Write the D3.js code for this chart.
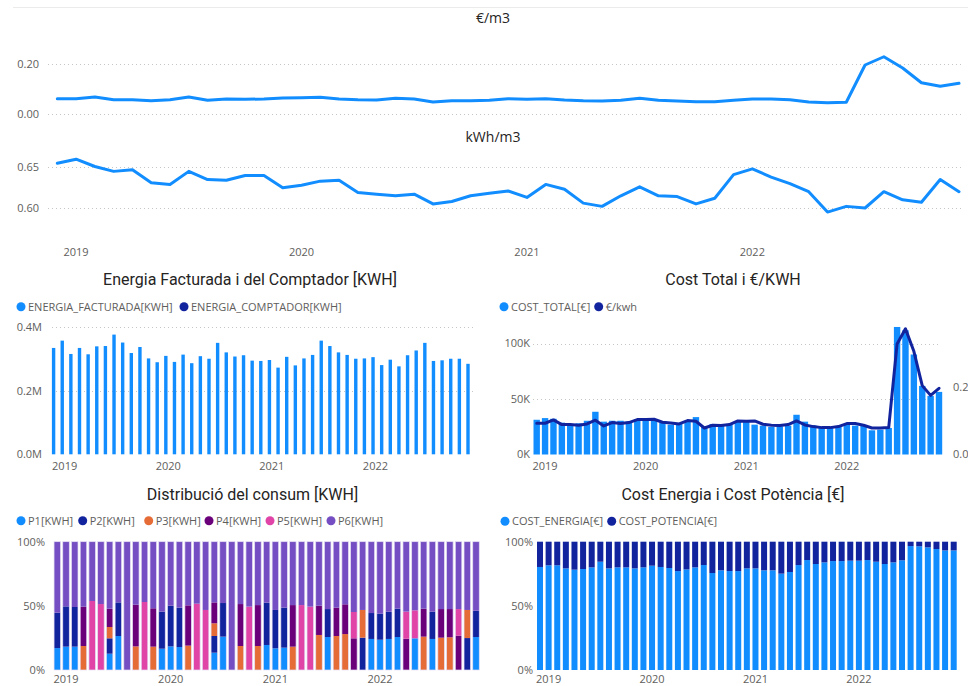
<!DOCTYPE html>
<html><head><meta charset="utf-8">
<script src="https://cdn.jsdelivr.net/npm/d3@7"></script>
<style>
body{margin:0;background:#fff;}
svg{display:block;font-family:"Open Sans",sans-serif;}
</style></head><body><svg id="c" width="968" height="686"></svg>
<script>
// ---------------- DATA ----------------
const months = ["2018-12","2019-01","2019-02","2019-03","2019-04","2019-05","2019-06","2019-07","2019-08","2019-09","2019-10","2019-11","2019-12",
"2020-01","2020-02","2020-03","2020-04","2020-05","2020-06","2020-07","2020-08","2020-09","2020-10","2020-11","2020-12",
"2021-01","2021-02","2021-03","2021-04","2021-05","2021-06","2021-07","2021-08","2021-09","2021-10","2021-11","2021-12",
"2022-01","2022-02","2022-03","2022-04","2022-05","2022-06","2022-07","2022-08","2022-09","2022-10","2022-11","2022-12"];
const yearLabels = ["2019","2020","2021","2022"];

const eurPerM3 = [0.061,0.061,0.068,0.057,0.057,0.053,0.057,0.068,0.055,0.060,0.059,0.060,0.064,0.065,0.067,0.060,0.057,0.056,0.063,0.060,0.048,0.053,0.053,0.055,0.061,0.059,0.061,0.056,0.053,0.052,0.055,0.063,0.055,0.052,0.049,0.049,0.055,0.060,0.060,0.057,0.048,0.045,0.047,0.196,0.229,0.184,0.125,0.111,0.123];
const eurPerM3Ticks = [0, 0.2];

const kwhPerM3 = [0.655,0.660,0.651,0.645,0.647,0.631,0.629,0.645,0.635,0.634,0.640,0.640,0.625,0.628,0.633,0.634,0.619,0.617,0.615,0.617,0.605,0.608,0.615,0.618,0.621,0.613,0.629,0.623,0.606,0.602,0.615,0.626,0.615,0.614,0.605,0.612,0.641,0.648,0.638,0.630,0.620,0.595,0.602,0.600,0.620,0.610,0.607,0.635,0.620];
const kwhPerM3Ticks = [0.60, 0.65];

const energiaFacturada = [335000,358000,316000,335000,315000,340000,341000,377000,352000,319000,338000,302000,290000,310000,291000,314000,287000,309000,301000,351000,321000,308000,312000,295000,294000,297000,273000,307000,280000,302000,313000,358000,341000,321000,313000,301000,302000,306000,281000,298000,277000,312000,327000,351000,294000,296000,301000,301000,285000];
const energiaTicks = [0, 200000, 400000];

const costTotal = [31300,32800,32200,28700,27500,28100,30400,38500,29600,30400,30400,29600,31900,32200,31900,28700,26900,27500,30400,33700,25100,27500,26000,27500,29900,29600,26900,26000,24800,25400,26000,35800,29600,26000,23900,23900,24800,27200,26000,26000,21800,22400,23900,114900,111900,90100,61800,52800,56400];
const eurPerKwh = [0.093,0.093,0.103,0.089,0.089,0.087,0.091,0.102,0.085,0.095,0.092,0.095,0.104,0.104,0.105,0.096,0.094,0.091,0.101,0.099,0.079,0.087,0.086,0.089,0.100,0.099,0.100,0.090,0.087,0.086,0.089,0.100,0.088,0.083,0.080,0.080,0.083,0.092,0.092,0.087,0.079,0.079,0.080,0.329,0.374,0.307,0.205,0.176,0.197];
const costTicks = [0, 50000, 100000];
const eurPerKwhTicks = [0, 0.2];

const P1 = [17.1,18.2,18.2,0,0,0,12.7,26.5,0,0,0,0,16.6,18.4,17.9,0,0,0,13.5,26.0,0,0,0,0,19.5,16.9,17.4,0,0,0,0,25.7,0,0,0,0,24.2,23.6,24.2,25.7,0,24.7,0,24.2,0,0,0,0,25.7];
const P2 = [27.6,31.4,30.9,0,0,0,12.0,26.2,0,0,0,0,28.9,31.7,30.7,0,0,0,13.0,26.2,0,0,0,0,33.0,29.9,31.2,0,0,0,0,21.8,0,0,0,25.2,20.2,20.3,21.3,22.1,0,0,0,21.3,0,0,0,24.9,20.5];
const P3 = [0,0,0,18.7,0,0,8.8,0,0,18.4,0,18.2,0,0,0,19.0,0,0,9.9,0,0,18.7,0,18.7,0,0,0,18.2,0,0,27.3,0,26.5,28.0,0,21.6,0,0,0,0,0,0,26.0,0,25.2,25.5,0,21.9,0];
const P4 = [0,0,0,30.7,0,0,14.3,0,0,32.5,0,29.9,0,0,0,31.4,0,0,16.3,0,0,32.7,0,31.9,0,0,0,32.4,0,0,22.8,0,22.1,23.2,24.7,0,0,0,0,0,24.4,0,21.8,0,22.3,22.0,26.8,0,0];
const P5 = [0,0,0,0,53.8,51.4,0,0,0,0,53.0,0,0,0,0,0,51.7,46.8,0,0,0,0,49.4,0,0,0,0,0,50.6,49.4,0,0,0,0,20.5,0,0,0,0,0,21.1,21.8,0,0,0,0,20.7,0,0];
const P6 = [55.3,50.4,50.9,50.6,46.2,48.6,52.2,47.3,100,49.1,47.0,51.9,54.5,49.9,51.4,49.6,48.3,53.2,47.3,47.8,100,48.6,50.6,49.4,47.5,53.2,51.4,49.4,49.4,50.6,49.9,52.5,51.4,48.8,54.8,53.2,55.6,56.1,54.5,52.2,54.5,53.5,52.2,54.5,52.5,52.5,52.5,53.2,53.8];
const periodNames = ["P1[KWH]","P2[KWH]","P3[KWH]","P4[KWH]","P5[KWH]","P6[KWH]"];

const costEnergia = [80.3,81.6,81.6,79.2,78.2,78.7,80.0,84.4,79.2,80.0,80.0,79.2,80.0,81.3,80.3,79.5,77.1,78.4,80.0,81.8,75.6,77.7,77.1,77.1,79.2,79.2,77.7,77.7,75.1,76.4,81.8,85.7,82.6,83.9,84.9,84.9,85.2,85.2,85.7,84.4,82.6,83.9,85.5,96.6,96.4,95.6,94.3,93.2,93.2];
const costPotencia = [19.7,18.4,18.4,20.8,21.8,21.3,20.0,15.6,20.8,20.0,20.0,20.8,20.0,18.7,19.7,20.5,22.9,21.6,20.0,18.2,24.4,22.3,22.9,22.9,20.8,20.8,22.3,22.3,24.9,23.6,18.2,14.3,17.4,16.1,15.1,15.1,14.8,14.8,14.3,15.6,17.4,16.1,14.5,3.4,3.6,4.4,5.7,6.8,6.8];
const pctTicks = [0, 50, 100];

// ---------------- STYLE ----------------
const C = {blue:"#118DFF", navy:"#12239E", orange:"#E66C37", purple:"#6B007B", pink:"#E044A7", violet:"#744EC2"};
const periodColors = [C.blue, C.navy, C.orange, C.purple, C.pink, C.violet];
const axisColor = "#605E5C", titleColor = "#252423", gridColor = "#C8C6C4";
const titleFont = "Roboto, 'Open Sans', sans-serif";

const svg = d3.select("#c");
const idx = d3.range(months.length);
const yearIdx = yearLabels.map(y => months.indexOf(y + "-01"));

svg.append("line").attr("x1",13).attr("x2",968).attr("y1",7.5).attr("y2",7.5).attr("stroke","#EDEBE9").attr("stroke-width",1);

function title(txt, x, y, size, fam) {
  svg.append("text").attr("x",x).attr("y",y).attr("text-anchor","middle").attr("dominant-baseline","central")
    .attr("fill",titleColor).attr("font-size",size).attr("font-family",fam||titleFont).text(txt);
}
function grid(y, vals, x0, x1) {
  svg.append("g").selectAll("line").data(vals).join("line")
    .attr("x1",x0).attr("x2",x1).attr("y1",d=>Math.round(y(d))+0.5).attr("y2",d=>Math.round(y(d))+0.5)
    .attr("stroke",gridColor).attr("stroke-width",1).attr("stroke-dasharray","1,3");
}
function yLabels(y, vals, x, fmt, anchor) {
  svg.append("g").selectAll("text").data(vals).join("text")
    .attr("x",x).attr("y",d=>y(d)).attr("dy","0.35em").attr("text-anchor",anchor||"end")
    .attr("fill",axisColor).attr("font-size",11).text(fmt);
}
function xLabels(x, yPos) {
  svg.append("g").selectAll("text").data(yearLabels).join("text")
    .attr("x",(d,i)=>x(yearIdx[i])).attr("y",yPos).attr("dy","0.35em").attr("text-anchor","middle")
    .attr("fill",axisColor).attr("font-size",11).text(d=>d);
}
function legend(items, y) {
  const g = svg.append("g");
  items.forEach(it => {
    g.append("circle").attr("cx",it.x).attr("cy",y).attr("r",4.5).attr("fill",it.color);
    g.append("text").attr("x",it.x+7).attr("y",y).attr("dy","0.35em").attr("fill",axisColor)
      .attr("font-size",11).text(it.name);
  });
}

// ---------------- €/m3 ----------------
const xTop = d3.scaleLinear().domain([0, months.length-1]).range([57.3, 959]);
title("€/m3", 493, 17, 14, "'Open Sans', sans-serif");
const yEur = d3.scaleLinear().domain([0,0.2]).range([114,64]);
grid(yEur, eurPerM3Ticks, 48, 962);
yLabels(yEur, eurPerM3Ticks, 39, d3.format(".2f"));
svg.append("path").datum(eurPerM3).attr("fill","none").attr("stroke",C.blue).attr("stroke-width",3)
  .attr("stroke-linejoin","round").attr("stroke-linecap","round")
  .attr("d", d3.line().x((d,i)=>xTop(i)).y(d=>yEur(d)));

// ---------------- kWh/m3 ----------------
title("kWh/m3", 493, 136, 14, "'Open Sans', sans-serif");
const yKwh = d3.scaleLinear().domain([0.60,0.65]).range([208,167.3]);
grid(yKwh, kwhPerM3Ticks, 48, 962);
yLabels(yKwh, kwhPerM3Ticks, 39, d3.format(".2f"));
svg.append("path").datum(kwhPerM3).attr("fill","none").attr("stroke",C.blue).attr("stroke-width",3)
  .attr("stroke-linejoin","round").attr("stroke-linecap","round")
  .attr("d", d3.line().x((d,i)=>xTop(i)).y(d=>yKwh(d)));
xLabels(xTop, 252);

// ---------------- Energia ----------------
title("Energia Facturada i del Comptador [KWH]", 250, 279, 16);
legend([{x:21,color:C.blue,name:"ENERGIA_FACTURADA[KWH]"},{x:184,color:C.navy,name:"ENERGIA_COMPTADOR[KWH]"}], 306.7);
const xEn = d3.scaleLinear().domain([0, months.length-1]).range([56, 470.4]);
const yEn = d3.scaleLinear().domain([0,400000]).range([454.3,327.3]);
grid(yEn, energiaTicks.slice(1), 52, 473);
yLabels(yEn, energiaTicks, 42, d=>d3.format(".1f")(d/1e6)+"M");
svg.append("g").selectAll("rect").data(energiaFacturada).join("rect")
  .attr("x",(d,i)=>xEn(i)-4.1).attr("width",3.4)
  .attr("y",d=>yEn(d)).attr("height",d=>yEn(0)-yEn(d)).attr("fill",C.blue);
xLabels(xEn, 466);

// ---------------- Cost Total ----------------
title("Cost Total i €/KWH", 733, 279, 16);
legend([{x:504,color:C.blue,name:"COST_TOTAL[€]"},{x:598.7,color:C.navy,name:"€/kwh"}], 306.7);
const xCo = d3.scaleLinear().domain([0, months.length-1]).range([536.7, 939]);
const yCo = d3.scaleLinear().domain([0,100000]).range([454.5,343.5]);
const yR = d3.scaleLinear().domain([0,0.2]).range([454.5,387.3]);
grid(yCo, costTicks.slice(1), 533, 941);
yLabels(yCo, costTicks, 530, d=>(d/1000)+"K");
yLabels(yR, eurPerKwhTicks, 953, d3.format(".1f"), "start");
svg.append("g").selectAll("rect").data(costTotal).join("rect")
  .attr("x",(d,i)=>xCo(i)-3.2).attr("width",6.4)
  .attr("y",d=>yCo(d)).attr("height",d=>yCo(0)-yCo(d)).attr("fill",C.blue);
svg.append("path").datum(eurPerKwh).attr("fill","none").attr("stroke",C.navy).attr("stroke-width",3)
  .attr("stroke-linejoin","round").attr("stroke-linecap","round")
  .attr("d", d3.line().x((d,i)=>xCo(i)).y(d=>yR(d)));
xLabels(xCo, 466);

// ---------------- Distribució ----------------
title("Distribució del consum [KWH]", 252.5, 494, 16);
legend(periodNames.map((n,k)=>({x:[21,82.7,148.7,209,270,331][k], color:periodColors[k], name:n})), 520.7);
const xDi = d3.scaleLinear().domain([0, months.length-1]).range([57.3, 476]);
const yDi = d3.scaleLinear().domain([0,100]).range([670,541.7]);
yLabels(yDi, pctTicks, 45, d=>d+"%");
const distRows = idx.map(i => ({i, P1:P1[i],P2:P2[i],P3:P3[i],P4:P4[i],P5:P5[i],P6:P6[i]}));
const distStack = d3.stack().keys(["P1","P2","P3","P4","P5","P6"]).offset(d3.stackOffsetExpand)(distRows);
const yDiF = d3.scaleLinear().domain([0,1]).range([670,541.7]);
svg.append("g").selectAll("g").data(distStack).join("g").attr("fill",(d,k)=>periodColors[k])
  .selectAll("rect").data(d=>d.filter(s=>s[1]-s[0]>0)).join("rect")
  .attr("x",d=>xDi(d.data.i)-3.25).attr("width",6.5)
  .attr("y",d=>yDiF(d[1])).attr("height",d=>yDiF(d[0])-yDiF(d[1]));
svg.append("g").selectAll("rect").data(idx).join("rect")
  .attr("x",i=>xDi(i)-3.25).attr("width",6.5).attr("y",yDiF(1)).attr("height",yDiF(0)-yDiF(1))
  .attr("fill","none").attr("stroke","#E4DDF4").attr("stroke-width",0.7);
xLabels(xDi, 679.5);

// ---------------- Cost Energia i Potència ----------------
title("Cost Energia i Cost Potència [€]", 733, 494, 16);
legend([{x:505,color:C.blue,name:"COST_ENERGIA[€]"},{x:611.7,color:C.navy,name:"COST_POTENCIA[€]"}], 521.2);
const xCe = d3.scaleLinear().domain([0, months.length-1]).range([540, 953.7]);
yLabels(yDi, pctTicks, 533, d=>d+"%");
const ceRows = idx.map(i => ({i, E:costEnergia[i], P:costPotencia[i]}));
const ceStack = d3.stack().keys(["E","P"]).offset(d3.stackOffsetExpand)(ceRows);
svg.append("g").selectAll("g").data(ceStack).join("g").attr("fill",(d,k)=>[C.blue,C.navy][k])
  .selectAll("rect").data(d=>d).join("rect")
  .attr("x",d=>xCe(d.data.i)-3).attr("width",6)
  .attr("y",d=>yDiF(d[1])).attr("height",d=>yDiF(d[0])-yDiF(d[1]));
xLabels(xCe, 679.5);
</script></body></html>
